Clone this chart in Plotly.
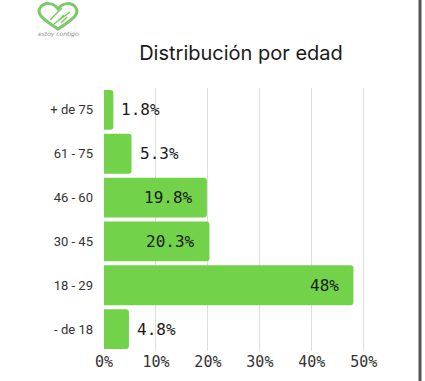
import plotly.graph_objects as go

categories = ["+ de 75", "61 - 75", "46 - 60", "30 - 45", "18 - 29", "- de 18"]
values = [1.8, 5.3, 19.8, 20.3, 48, 4.8]
tick_vals = [0, 10, 20, 30, 40, 50]
tick_text = ["0%", "10%", "20%", "30%", "40%", "50%"]

BAR = "#72D34B"
W, H = 425, 381
ML, MR, MT, MB = 104, 56, 88, 30
PW, PH = W - ML - MR, H - MT - MB

def px_x(x):
    return (x - ML) / PW

def px_y(y):
    return 1 - (y - MT) / PH

def px_path(cmds):
    out = []
    for c in cmds:
        if isinstance(c, str):
            out.append(c)
        else:
            out.append(f"{px_x(c[0]):.5f},{px_y(c[1]):.5f}")
    return " ".join(out)

fig = go.Figure(go.Bar(
    y=categories, x=values, orientation="h",
    marker=dict(color=BAR, line=dict(width=0)),
    hoverinfo="skip",
))

anns = []
for c, v in zip(categories, values):
    inside = v > 10
    anns.append(dict(
        x=v, y=c, xref="x", yref="y",
        text=f"{v:g}%", showarrow=False,
        xanchor="right" if inside else "left",
        xshift=-12 if inside else 6,
        font=dict(family="DejaVu Sans Mono", size=16, color="#1a1a1a"),
    ))

anns.append(dict(xref="paper", yref="paper", x=px_x(58), y=px_y(34),
                 text="<i>estoy contigo</i>", showarrow=False, xanchor="center", yanchor="middle",
                 font=dict(family="DejaVu Sans", size=6, color="#888888")))

heart = px_path(["M", (58, 29), "C", (44, 20), (36, 14), (40, 8), "C", (44, 2), (53, 2), (58, 9),
                 "C", (63, 2), (72, 2), (76, 8), "C", (80, 14), (72, 20), (58, 29), "Z"])
hands = px_path(["M", (50, 20), "L", (62, 8), "M", (54, 24), "L", (70, 12),
                 "M", (58, 21), "L", (64, 15), "M", (61, 23), "L", (67, 17)])

fig.update_layout(
    width=W, height=H,
    margin=dict(l=ML, r=MR, t=MT, b=MB, autoexpand=False),
    paper_bgcolor="white", plot_bgcolor="white",
    showlegend=False,
    bargap=0.09,
    barcornerradius=3,
    title=dict(text="Distribución por edad", x=241 / W, y=1 - 53 / H,
               xanchor="center", yanchor="middle", xref="container", yref="container",
               font=dict(family="Inter", size=20, color="#1a1a1a")),
    xaxis=dict(range=[0, 51], tickvals=tick_vals, ticktext=tick_text,
               showgrid=True, gridcolor="#DDDDDD", gridwidth=1,
               zeroline=False, showline=False, ticks="", automargin=False,
               tickfont=dict(family="DejaVu Sans Mono", size=15, color="#333333")),
    yaxis=dict(autorange="reversed", showgrid=False, zeroline=False, showline=False,
               ticks="", ticklabelstandoff=10, automargin=False,
               tickfont=dict(family="Roboto", size=13, color="#333333")),
    annotations=anns,
    shapes=[
        dict(type="line", xref="paper", yref="paper", layer="above",
             x0=px_x(420), x1=px_x(420), y0=px_y(H), y1=px_y(0),
             line=dict(color="#555555", width=3)),
        dict(type="path", xref="paper", yref="paper", path=heart,
             line=dict(color="#7CC96A", width=3)),
        dict(type="path", xref="paper", yref="paper", path=hands,
             line=dict(color="#7CC96A", width=1.5)),
    ],
)

fig.write_html("out.html", config={"displayModeBar": False},
               post_script="document.body.style.margin='0';")
